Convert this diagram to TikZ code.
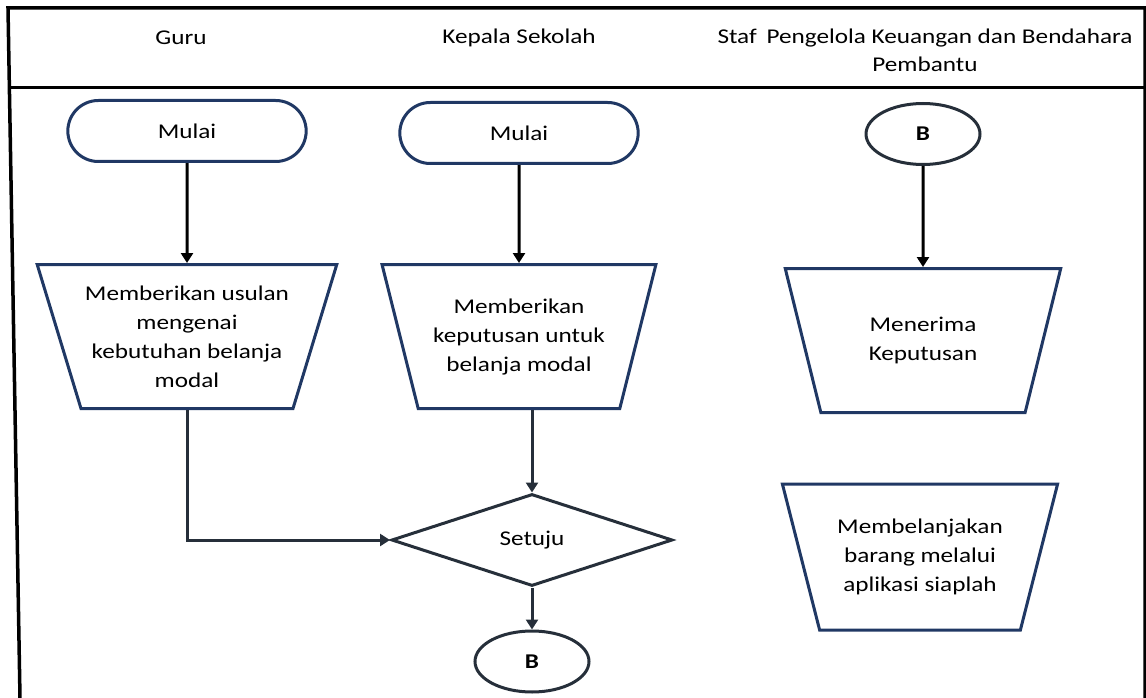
\documentclass[tikz,border=0pt]{standalone}
\usepackage{fontspec}
\setmainfont{Carlito}[FakeStretch=1.2]
\usetikzlibrary{arrows.meta,positioning,shapes.geometric,shapes.misc}
\definecolor{navy}{HTML}{203864}
\definecolor{slate}{HTML}{262F3A}

\begin{document}
\begin{tikzpicture}
[x=1pt,y=-1pt,
font=\fontsize{21}{29}\selectfont,
terminal/.style={rounded rectangle,draw=navy,line width=3pt,minimum width=245pt,minimum height=61pt},
link/.style={ellipse,draw=slate,line width=3pt,minimum width=114pt,minimum height=61pt,font=\fontsize{21}{29}\selectfont\bfseries},
process/.style={trapezium,shape border rotate=180,trapezium stretches=true,
  trapezium left angle=68,trapezium right angle=68,draw=navy,line width=3pt,
  minimum width=276pt,minimum height=144pt,align=center,inner sep=0pt},
decision/.style={diamond,draw=slate,line width=3pt,minimum width=281pt,minimum height=92pt,inner sep=0pt},
pre/.style={<-,line width=3pt,draw=black},
post/.style={->,line width=3pt,draw=slate},
>={Triangle[width=12pt,length=10pt]}]
\useasboundingbox (0,0) rectangle (1146,698);
% frame and header
\draw[line width=3.5pt] (20,698) -- (8,8) -- (1145,8) -- (1145,698);
\draw[line width=3pt] (9,88) -- (1145,88);
\node (head guru) at (181,38) {Guru};
\node (head kepala) at (519,38) {Kepala Sekolah};
\node[align=center,font=\fontsize{21}{28}\selectfont] (head staf) at (925,50) {Staf\hspace{4pt} Pengelola Keuangan dan Bendahara\\Pembantu};
% guru
\node[terminal] (mulai guru) at (187,131) {Mulai};
\node[process,minimum width=300pt,trapezium left angle=67.5,trapezium right angle=67.5] (usulan) [below=100pt of mulai guru]
  {Memberikan usulan\\mengenai\\kebutuhan belanja\\modal}
  edge [pre] (mulai guru);
% kepala sekolah
\node[terminal] (mulai kepala) at (519,133) {Mulai};
\node[process,minimum width=274pt] (keputusan) [below=98pt of mulai kepala]
  {Memberikan\\keputusan untuk\\belanja modal}
  edge [pre] (mulai kepala);
\node[decision] (setuju) at (532,540) {Setuju};
\node[link] (b bawah) [below=42pt of setuju] {B}
  edge [pre,draw=slate] (setuju);
\draw[post] (usulan.south) |- (setuju.west);
\draw[post] (setuju.north |- keputusan.south) -- (setuju.north);
% staf
\node[link] (b atas) at (923,134) {B};
\node[process] (terima) [below=101pt of b atas]
  {Menerima\\Keputusan}
  edge [pre] (b atas);
\node[process,minimum height=146pt] (belanja) at (920,557)
  {Membelanjakan\\barang melalui\\aplikasi siaplah};
\end{tikzpicture}
\end{document}
